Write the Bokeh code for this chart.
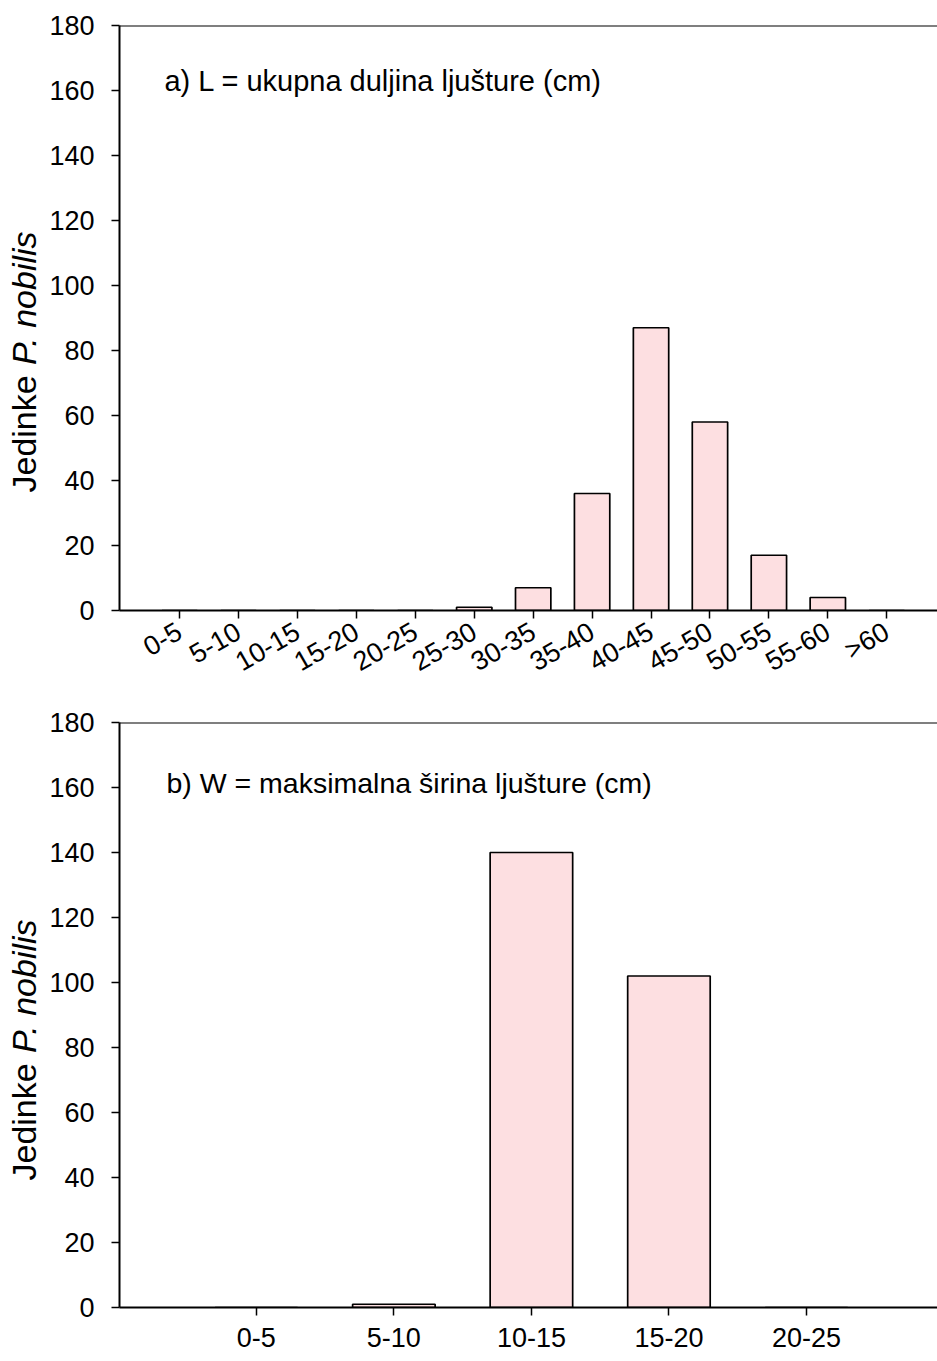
import math
from bokeh.plotting import figure
from bokeh.models import Range1d, FixedTicker, Span, Label
from bokeh.layouts import column, row
from bokeh.core.properties import value
from bokeh.embed import file_html
from bokeh.resources import INLINE

# ---- data ----
len_classes = ["0-5", "5-10", "10-15", "15-20", "20-25", "25-30", "30-35",
               "35-40", "40-45", "45-50", "50-55", "55-60", ">60"]
len_counts = [0, 0, 0, 0, 0, 1, 7, 36, 87, 58, 17, 4, 0]

wid_classes = ["0-5", "5-10", "10-15", "15-20", "20-25"]
wid_counts = [0, 1, 140, 102, 0]

y_ticks = [0, 20, 40, 60, 80, 100, 120, 140, 160, 180]
note_a = "a) L = ukupna duljina ljušture (cm)"
note_b = "b) W = maksimalna širina ljušture (cm)"
ylab_plain = "Jedinke "
ylab_italic = "P. nobilis"

# ---- style ----
FONT = "Liberation Sans"
BAR_FILL = "#FDDFE1"
LAB_W = 46
MAIN_W = 937 - LAB_W
BORDER_L = 118 - LAB_W
FRAME_W = MAIN_W - BORDER_L
FRAME_H = 585
BORDER_T = 25
Y_MAX = 180
TICK_FS = "27px"
LABEL_PX = 34


def label_fig(fig_h, border_b, from_bottom):
    q = figure(width=LAB_W, height=fig_h, output_backend="svg",
               toolbar_location=None, x_range=Range1d(0, LAB_W),
               y_range=Range1d(0, FRAME_H), min_border_left=0,
               min_border_right=0, min_border_top=BORDER_T,
               min_border_bottom=border_b, x_axis_location=None,
               y_axis_location=None)
    q.outline_line_color = None
    q.grid.grid_line_color = None
    plain_w = 3.75 * LABEL_PX
    q.text(x=[23], y=[from_bottom], text=[ylab_plain], angle=math.pi / 2,
           text_font=value(FONT), text_font_size=f"{LABEL_PX}px",
           text_color="black", text_align="left", text_baseline="middle")
    q.text(x=[23], y=[from_bottom + plain_w], text=[ylab_italic],
           angle=math.pi / 2, text_font=value(FONT),
           text_font_size=f"{LABEL_PX}px", text_font_style="italic",
           text_color="black", text_align="left", text_baseline="middle")
    return q


def panel(classes, counts, note, note_fs, fig_h, border_b, px_per_cat,
          x_start, rotate, note_dx, note_y):
    x_end = x_start + FRAME_W / px_per_cat
    p = figure(width=MAIN_W, height=fig_h, output_backend="svg",
               toolbar_location=None, x_range=Range1d(x_start, x_end),
               y_range=Range1d(0, Y_MAX), min_border_left=BORDER_L,
               min_border_right=0, min_border_top=BORDER_T,
               min_border_bottom=border_b)
    p.outline_line_color = None
    p.grid.grid_line_color = None

    idx = list(range(len(classes)))
    p.vbar(x=idx, top=counts, bottom=0, width=0.6, fill_color=BAR_FILL,
           line_color="black", line_width=1.7)

    # top frame line
    p.add_layout(Span(location=Y_MAX, dimension="width", line_color="black",
                      line_width=2))

    for ax in (p.xaxis[0], p.yaxis[0]):
        ax.axis_line_width = 2
        ax.axis_line_color = "black"
        ax.major_tick_line_width = 1.5
        ax.major_tick_line_color = "black"
        ax.major_tick_out = 8
        ax.major_tick_in = 0
        ax.minor_tick_line_color = None
        ax.major_label_text_font = FONT
        ax.major_label_text_font_size = TICK_FS
        ax.major_label_text_color = "black"

    p.xaxis.ticker = FixedTicker(ticks=idx)
    p.xaxis.major_label_overrides = {i: c for i, c in zip(idx, classes)}
    if rotate:
        p.xaxis.major_label_orientation = math.radians(30)
        p.xaxis.major_label_standoff = 11
    else:
        p.xaxis.major_label_standoff = 12
    p.yaxis.ticker = FixedTicker(ticks=y_ticks)
    p.yaxis.major_label_standoff = 17

    p.add_layout(Label(x=x_start + note_dx / px_per_cat, y=note_y, text=note,
                       text_font=FONT, text_font_size=note_fs,
                       text_color="black", text_align="left",
                       text_baseline="middle"))
    return p


p1 = panel(len_classes, len_counts, note_a, "29px", 697, 87, 59.0, -1.02,
           True, 45, 163)
l1 = label_fig(697, 87, 118)
p2 = panel(wid_classes, wid_counts, note_b, "28.5px", 664, 54, 137.7, -0.995,
           False, 47, 161.5)
l2 = label_fig(664, 54, 127)

layout = column(row(l1, p1, spacing=0), row(l2, p2, spacing=0), spacing=0)
open("out.html", "w").write(file_html(layout, INLINE))
